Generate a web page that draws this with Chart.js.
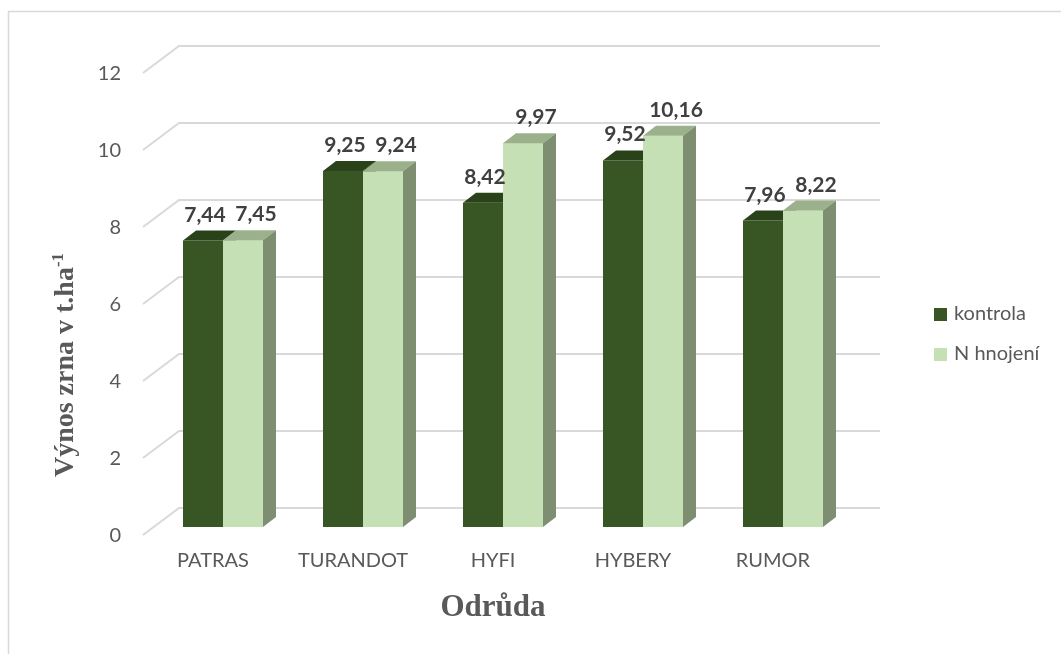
<!DOCTYPE html>
<html>
<head>
<meta charset="utf-8">
<script src="https://cdn.jsdelivr.net/npm/chart.js@4"></script>
<style>
  body { margin: 0; background: #fff; }
  #wrap { width: 1061px; height: 654px; }
</style>
</head>
<body>
<div id="wrap"><canvas id="yieldChart" width="1061" height="654"></canvas></div>
<script>
const categories = ["PATRAS", "TURANDOT", "HYFI", "HYBERY", "RUMOR"];
const kontrola = [7.44, 9.25, 8.42, 9.52, 7.96];
const nHnojeni = [7.45, 9.24, 9.97, 10.16, 8.22];
const seriesNames = ["kontrola", "N hnojení"];
const yTicks = [0, 2, 4, 6, 8, 10, 12];

// colours of the 3D faces: front, top, side
const faces = [
  { front: "#375623", top: "#2a4219", side: "#2d471c" },
  { front: "#c5e0b4", top: "#9bb18b", side: "#7e8e70" }
];
const depthX = 13;
const depthY = 10;
const labelShift = [2, 13];

const fmt = v => v.toFixed(2).replace(".", ",");

function drawFaces(ctx, bar, f, withFront) {
  const x0 = bar.x - bar.width / 2;
  const x1 = bar.x + bar.width / 2;
  const top = bar.y;
  const base = bar.base;
  if (withFront) {
    ctx.fillStyle = f.front;
    ctx.fillRect(x0, top, x1 - x0, base - top);
  }
  ctx.fillStyle = f.top;
  ctx.beginPath();
  ctx.moveTo(x0, top);
  ctx.lineTo(x1, top);
  ctx.lineTo(x1 + depthX, top - depthY);
  ctx.lineTo(x0 + depthX, top - depthY);
  ctx.closePath();
  ctx.fill();
  ctx.fillStyle = f.side;
  ctx.beginPath();
  ctx.moveTo(x1, top);
  ctx.lineTo(x1 + depthX, top - depthY);
  ctx.lineTo(x1 + depthX, base - depthY);
  ctx.lineTo(x1, base);
  ctx.closePath();
  ctx.fill();
}

const threeD = {
  id: "threeD",
  beforeDraw(chart) {
    const ctx = chart.ctx;
    ctx.save();
    ctx.fillStyle = "#fff";
    ctx.fillRect(0, 0, chart.width, chart.height);
    ctx.strokeStyle = "#d9d9d9";
    ctx.lineWidth = 1.5;
    ctx.strokeRect(8.5, 11.5, chart.width + 20, chart.height + 20);
    ctx.restore();
  },
  beforeDatasetsDraw(chart) {
    const { ctx, chartArea, scales } = chart;
    ctx.save();
    ctx.strokeStyle = "#d9d9d9";
    ctx.lineWidth = 2;
    scales.y.ticks.forEach(t => {
      const p = scales.y.getPixelForValue(t.value);
      ctx.beginPath();
      ctx.moveTo(chartArea.left - 10, p + 8);
      ctx.lineTo(chartArea.left + 26, p - 19);
      ctx.lineTo(chartArea.right + 27, p - 19);
      ctx.stroke();
    });
    ctx.restore();
  },
  afterDatasetsDraw(chart) {
    const ctx = chart.ctx;
    ctx.save();
    // kontrola top/side first, then the N bars again so they sit in front
    chart.getDatasetMeta(0).data.forEach(bar => drawFaces(ctx, bar, faces[0], false));
    chart.getDatasetMeta(1).data.forEach(bar => drawFaces(ctx, bar, faces[1], true));

    ctx.font = "bold 21px Lato";
    ctx.fillStyle = "#404040";
    ctx.textAlign = "center";
    ctx.textBaseline = "alphabetic";
    chart.data.datasets.forEach((ds, i) => {
      chart.getDatasetMeta(i).data.forEach((bar, j) => {
        ctx.fillText(fmt(ds.data[j]), bar.x + labelShift[i], bar.y - depthY - 9);
      });
    });
    ctx.restore();
  },
  afterDraw(chart) {
    const ctx = chart.ctx;
    ctx.save();
    // legend
    ctx.font = "20px Lato";
    ctx.textBaseline = "middle";
    ctx.textAlign = "left";
    seriesNames.forEach((name, i) => {
      const cy = 314 + i * 40;
      ctx.fillStyle = faces[i].front;
      ctx.fillRect(934, cy - 6, 13, 13);
      ctx.fillStyle = "#595959";
      ctx.fillText(name, 954, cy);
    });

    // y axis title with superscript
    ctx.fillStyle = "#595959";
    ctx.translate(73, 365);
    ctx.rotate(-Math.PI / 2);
    ctx.textBaseline = "alphabetic";
    const main = "Výnos zrna v t.ha";
    const sup = "-1";
    ctx.font = "bold 28px 'Liberation Serif'";
    const w1 = ctx.measureText(main).width;
    ctx.font = "bold 17px 'Liberation Serif'";
    const w2 = ctx.measureText(sup).width;
    const start = -(w1 + w2) / 2;
    ctx.font = "bold 28px 'Liberation Serif'";
    ctx.fillText(main, start, 0);
    ctx.font = "bold 17px 'Liberation Serif'";
    ctx.fillText(sup, start + w1, -10);
    ctx.restore();

    // x axis title
    ctx.save();
    ctx.fillStyle = "#595959";
    ctx.font = "bold 31px 'Liberation Serif'";
    ctx.textAlign = "center";
    ctx.textBaseline = "alphabetic";
    ctx.fillText("Odrůda", 493, 616);
    ctx.restore();
  }
};

Chart.defaults.font.family = "Lato";

new Chart(document.getElementById("yieldChart"), {
  type: "bar",
  data: {
    labels: categories,
    datasets: [
      {
        label: seriesNames[0],
        data: kontrola,
        backgroundColor: faces[0].front
      },
      {
        label: seriesNames[1],
        data: nHnojeni,
        backgroundColor: faces[1].front
      }
    ]
  },
  options: {
    responsive: false,
    animation: false,
    categoryPercentage: 80 / 140,
    barPercentage: 1,
    layout: {
      padding: { top: 65, right: 208, left: 0, bottom: 0 }
    },
    plugins: {
      legend: { display: false },
      tooltip: { enabled: false }
    },
    scales: {
      x: {
        grid: { display: false, drawTicks: false },
        border: { display: false },
        ticks: {
          color: "#595959",
          font: { size: 20 },
          padding: 22,
          labelOffset: -10,
          maxRotation: 0
        },
        afterFit(scale) { scale.height = 127; }
      },
      y: {
        min: 0,
        max: 12,
        grid: { display: false, drawTicks: false },
        border: { display: false },
        afterBuildTicks(scale) {
          scale.ticks = yTicks.map(v => ({ value: v }));
        },
        ticks: {
          color: "#595959",
          font: { size: 20 },
          padding: 32,
          labelOffset: 9
        },
        afterFit(scale) { scale.width = 153; }
      }
    }
  },
  plugins: [threeD]
});
</script>
</body>
</html>
